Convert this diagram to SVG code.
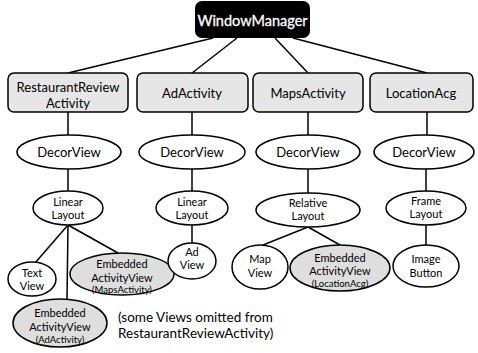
<svg xmlns="http://www.w3.org/2000/svg" width="478" height="353" viewBox="0 0 478 353">
<style>
  text { font-family: Lato, "Open Sans", "Liberation Sans", sans-serif; text-anchor: middle; fill: #000; }
  .box { fill: #e6e6e6; stroke: #000; stroke-width: 1.5; }
  .ell { fill: #fff; stroke: #000; stroke-width: 1.5; }
  .emb { fill: #dedede; stroke: #000; stroke-width: 1.5; }
  .big { font-size: 13px; }
  .mid { font-size: 11px; }
  .sm { font-size: 9.5px; }
  .note { font-size: 13.5px; text-anchor: start; }
  #connectors line { stroke: #000; stroke-width: 1.5; }
</style>
<rect width="478" height="353" fill="#fff"/>
<g id="connectors">
  <line x1="213" y1="38" x2="68" y2="73"/>
  <line x1="237" y1="38" x2="192" y2="73"/>
  <line x1="275" y1="38" x2="308" y2="73"/>
  <line x1="293" y1="38" x2="427" y2="73"/>
  <line x1="68" y1="112" x2="68" y2="135"/>
  <line x1="192" y1="112" x2="192" y2="135"/>
  <line x1="308" y1="112" x2="308" y2="135"/>
  <line x1="427" y1="112" x2="427" y2="135"/>
  <line x1="68" y1="169" x2="68" y2="192"/>
  <line x1="192" y1="169" x2="192" y2="192"/>
  <line x1="308" y1="169" x2="308" y2="193"/>
  <line x1="426" y1="169" x2="426" y2="192"/>
  <line x1="68" y1="225" x2="35" y2="263"/>
  <line x1="68" y1="225" x2="67" y2="299"/>
  <line x1="68" y1="225" x2="118" y2="253"/>
  <line x1="192" y1="225" x2="192" y2="243"/>
  <line x1="308" y1="227" x2="263" y2="245"/>
  <line x1="308" y1="227" x2="340" y2="245"/>
  <line x1="426" y1="225" x2="426" y2="245"/>
</g>
<g id="windowmanager">
  <rect x="195" y="1" width="115" height="37" rx="7" fill="#000"/>
  <text x="252.5" y="26" style="font-size:14.5px;fill:#fff;stroke:#fff;stroke-width:0.3">WindowManager</text>
</g>
<g id="restaurantreview">
  <rect class="box" x="8" y="73" width="120" height="39" rx="6"/>
  <text class="big" x="68" y="92">RestaurantReview</text>
  <text class="big" x="68" y="108">Activity</text>
</g>
<g id="adactivity">
  <rect class="box" x="137" y="73" width="111" height="39" rx="6"/>
  <text class="big" x="192" y="98">AdActivity</text>
</g>
<g id="mapsactivity">
  <rect class="box" x="253" y="73" width="110" height="39" rx="6"/>
  <text class="big" x="308" y="98">MapsActivity</text>
</g>
<g id="locationacg">
  <rect class="box" x="370" y="73" width="103" height="39" rx="6"/>
  <text class="big" x="421" y="98">LocationAcg</text>
</g>
<g id="decor1">
  <ellipse class="ell" cx="69" cy="152" rx="52" ry="17"/>
  <text class="big" x="69" y="157">DecorView</text>
</g>
<g id="decor2">
  <ellipse class="ell" cx="192" cy="152" rx="53" ry="17"/>
  <text class="big" x="192" y="157">DecorView</text>
</g>
<g id="decor3">
  <ellipse class="ell" cx="308" cy="152" rx="52" ry="17"/>
  <text class="big" x="308" y="157">DecorView</text>
</g>
<g id="decor4">
  <ellipse class="ell" cx="424" cy="152" rx="50" ry="17"/>
  <text class="big" x="424" y="157">DecorView</text>
</g>
<g id="linear1">
  <ellipse class="ell" cx="68" cy="208" rx="35" ry="17"/>
  <text class="mid" x="68" y="206">Linear</text>
  <text class="mid" x="68" y="219">Layout</text>
</g>
<g id="linear2">
  <ellipse class="ell" cx="192" cy="208" rx="36" ry="17"/>
  <text class="mid" x="192" y="206">Linear</text>
  <text class="mid" x="192" y="219">Layout</text>
</g>
<g id="relative">
  <ellipse class="ell" cx="308" cy="210" rx="52" ry="17"/>
  <text class="mid" x="308" y="207">Relative</text>
  <text class="mid" x="308" y="220">Layout</text>
</g>
<g id="frame">
  <ellipse class="ell" cx="426" cy="208" rx="40" ry="17"/>
  <text class="mid" x="426" y="205">Frame</text>
  <text class="mid" x="426" y="218">Layout</text>
</g>
<g id="textview">
  <ellipse class="ell" cx="32" cy="279" rx="24" ry="17"/>
  <text class="mid" x="32" y="277">Text</text>
  <text class="mid" x="32" y="290">View</text>
</g>
<g id="embedded-maps">
  <ellipse class="emb" cx="122" cy="274" rx="52" ry="21"/>
  <text class="mid" x="122" y="268">Embedded</text>
  <text class="mid" x="122" y="282">ActivityView</text>
  <text class="sm" x="122" y="293">(MapsActivity)</text>
</g>
<g id="embedded-ad">
  <ellipse class="emb" cx="60" cy="323" rx="47" ry="24"/>
  <text class="mid" x="60" y="317">Embedded</text>
  <text class="mid" x="60" y="331">ActivityView</text>
  <text class="sm" x="60" y="343">(AdActivity)</text>
</g>
<g id="adview">
  <ellipse class="ell" cx="192" cy="261" rx="24" ry="18"/>
  <text class="mid" x="192" y="256">Ad</text>
  <text class="mid" x="192" y="269">View</text>
</g>
<g id="mapview">
  <ellipse class="ell" cx="260" cy="267" rx="28" ry="22"/>
  <text class="mid" x="260" y="263">Map</text>
  <text class="mid" x="260" y="277">View</text>
</g>
<g id="embedded-location">
  <ellipse class="emb" cx="340" cy="268" rx="50" ry="23"/>
  <text class="mid" x="340" y="262">Embedded</text>
  <text class="mid" x="340" y="275">ActivityView</text>
  <text class="sm" x="340" y="287">(LocationAcg)</text>
</g>
<g id="imagebutton">
  <ellipse class="ell" cx="426" cy="266" rx="33" ry="21"/>
  <text class="mid" x="426" y="263">Image</text>
  <text class="mid" x="426" y="277">Button</text>
</g>
<g id="note">
  <text class="note" x="118" y="322">(some Views omitted from</text>
  <text class="note" x="118" y="338">RestaurantReviewActivity)</text>
</g>
</svg>
